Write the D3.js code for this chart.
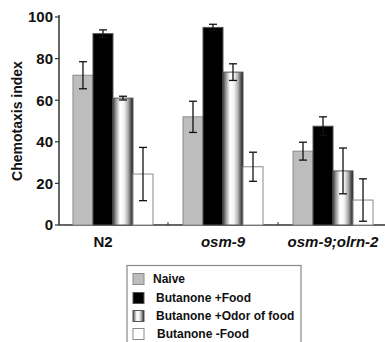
<!DOCTYPE html>
<html>
<head>
<meta charset="utf-8">
<script src="https://cdn.jsdelivr.net/npm/d3@7"></script>
<style>
  body { margin: 0; background: #fff; }
  text { font-family: Arial, "Liberation Sans", sans-serif; font-weight: bold; }
</style>
</head>
<body>
<div id="chart"></div>
<script>
// Data
const groups = ['N2', 'osm-9', 'osm-9;olrn-2'];
const italicGroups = ['osm-9', 'osm-9;olrn-2'];
const series = ['Naive', 'Butanone +Food', 'Butanone +Odor of food', 'Butanone -Food'];
const legendLabels = ['Naive', 'Butanone +Food', 'Butanone +Odor of food', 'Butanone -Food'];
const naive    = [72, 52, 35.5];
const butFood  = [92, 95, 47.5];
const butOdor  = [61, 73.5, 26];
const butNo    = [24.5, 28, 12];
const naiveErr   = [6.5, 7.5, 4.3];
const butFoodErr = [1.8, 1.5, 4.5];
const butOdorErr = [0.9, 4, 11];
const butNoErr   = [12.8, 7, 10.2];
const yTicks = [0, 20, 40, 60, 80, 100];

const values = [naive, butFood, butOdor, butNo];
const errors = [naiveErr, butFoodErr, butOdorErr, butNoErr];

const width = 385, height = 342;
const svg = d3.select('#chart').append('svg')
  .attr('width', width).attr('height', height);

// stripe gradient for the "odor of food" bars
const defs = svg.append('defs');
const grad = defs.append('linearGradient').attr('id', 'stripe')
  .attr('x1', '0%').attr('x2', '100%').attr('y1', '0%').attr('y2', '0%');
[['0%', '#3a3a3a'], ['12%', '#8a8a8a'], ['35%', '#ffffff'], ['55%', '#f4f4f4'],
 ['75%', '#b0b0b0'], ['90%', '#555555'], ['100%', '#1a1a1a']]
  .forEach(([o, c]) => grad.append('stop').attr('offset', o).attr('stop-color', c));

const fills = ['#bdbdbd', '#000000', 'url(#stripe)', '#ffffff'];
const strokes = ['#8a8a8a', '#555555', '#555555', '#8a8a8a'];

const x0 = 59, yBase = 225;
const x = d3.scaleBand().domain(groups)
  .range([x0, 387]).paddingInner(30 / 110).paddingOuter(0.127);
const xs = d3.scaleBand().domain(series).range([0, x.bandwidth()]);
const y = d3.scaleLinear().domain([0, 100]).range([yBase, 17]);

// Axes
svg.append('line').attr('x1', x0).attr('x2', x0).attr('y1', y(100) - 2).attr('y2', yBase)
  .attr('stroke', '#333').attr('stroke-width', 1.5);
svg.append('line').attr('x1', x0).attr('x2', 385).attr('y1', yBase).attr('y2', yBase)
  .attr('stroke', '#333').attr('stroke-width', 1.5);

yTicks.forEach(t => {
  svg.append('line').attr('x1', x0 - 4).attr('x2', x0).attr('y1', y(t)).attr('y2', y(t))
    .attr('stroke', '#333').attr('stroke-width', 1.2);
  svg.append('text').attr('x', x0 - 6).attr('y', y(t)).attr('dy', '0.36em')
    .attr('text-anchor', 'end').attr('font-size', 15).attr('fill', '#111').text(t);
});

// small ticks between groups
groups.slice(1).forEach(g => {
  const tx = x(g) - (x.step() - x.bandwidth()) / 2;
  svg.append('line').attr('x1', tx).attr('x2', tx).attr('y1', yBase - 3).attr('y2', yBase)
    .attr('stroke', '#333').attr('stroke-width', 1);
});

svg.append('text')
  .attr('transform', `translate(22, ${(y(100) + yBase) / 2}) rotate(-90)`)
  .attr('text-anchor', 'middle').attr('font-size', 14).attr('fill', '#111')
  .text('Chemotaxis index');

// Bars
series.forEach((s, si) => {
  const g = svg.append('g');
  g.selectAll('rect').data(groups).join('rect')
    .attr('x', d => x(d) + xs(s))
    .attr('y', (d, i) => y(values[si][i]))
    .attr('width', xs.bandwidth())
    .attr('height', (d, i) => yBase - y(values[si][i]))
    .attr('fill', fills[si])
    .attr('stroke', strokes[si]).attr('stroke-width', 1);

  // error bars
  groups.forEach((d, i) => {
    const cx = x(d) + xs(s) + xs.bandwidth() / 2;
    const top = y(values[si][i] + errors[si][i]);
    const bot = y(values[si][i] - errors[si][i]);
    const eg = g.append('g').attr('stroke', '#111').attr('stroke-width', 1.3);
    eg.append('line').attr('x1', cx).attr('x2', cx).attr('y1', top).attr('y2', bot);
    eg.append('line').attr('x1', cx - 4).attr('x2', cx + 4).attr('y1', top).attr('y2', top);
    eg.append('line').attr('x1', cx - 4).attr('x2', cx + 4).attr('y1', bot).attr('y2', bot);
  });
});

// Group labels
svg.selectAll('.glabel').data(groups).join('text')
  .attr('class', 'glabel')
  .attr('x', d => x(d) + x.bandwidth() / 2 - (d === 'N2' ? 10 : 0))
  .attr('y', 247)
  .attr('text-anchor', 'middle').attr('font-size', 15).attr('fill', '#111')
  .attr('font-style', d => italicGroups.includes(d) ? 'italic' : 'normal')
  .text(d => d);

// Legend
const lg = svg.append('g');
lg.append('rect').attr('x', 127).attr('y', 265.5).attr('width', 174).attr('height', 90)
  .attr('fill', '#fff').attr('stroke', '#888').attr('stroke-width', 1.2);
const rowY = [279, 298, 316, 334];
const textX = [153, 156, 156, 157];
legendLabels.forEach((l, i) => {
  lg.append('rect').attr('x', 133).attr('y', rowY[i] - 5.5).attr('width', 11).attr('height', 11)
    .attr('fill', fills[i]).attr('stroke', strokes[i]).attr('stroke-width', 1);
  lg.append('text').attr('x', textX[i]).attr('y', rowY[i]).attr('dy', '0.36em')
    .attr('font-size', 12).attr('fill', '#111').text(l);
});
</script>
</body>
</html>
